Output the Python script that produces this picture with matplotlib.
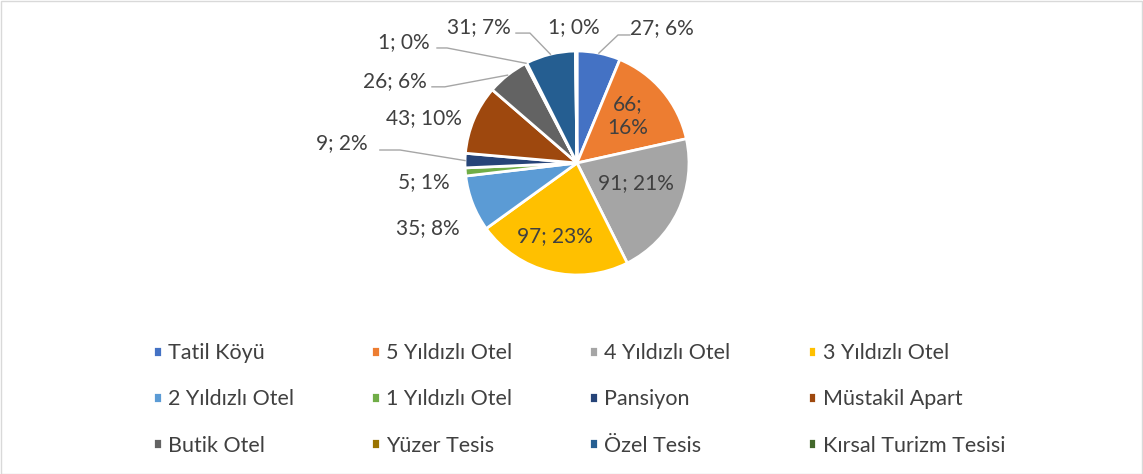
import numpy as np
import matplotlib
matplotlib.use("Agg")
import matplotlib.pyplot as plt
from matplotlib.patches import Rectangle

# ---------------- data ----------------
categories = ["Tatil Köyü", "5 Yıldızlı Otel", "4 Yıldızlı Otel", "3 Yıldızlı Otel",
              "2 Yıldızlı Otel", "1 Yıldızlı Otel", "Pansiyon", "Müstakil Apart",
              "Butik Otel", "Yüzer Tesis", "Özel Tesis", "Kırsal Turizm Tesisi"]
values = [27, 66, 91, 97, 35, 5, 9, 43, 26, 1, 31, 1]
percents = [6, 16, 21, 23, 8, 1, 2, 10, 6, 0, 7, 0]
colors = ["#4472C4", "#ED7D31", "#A5A5A5", "#FFC000", "#5B9BD5", "#70AD47",
          "#264478", "#9E480E", "#636363", "#997300", "#255E91", "#43682B"]

# ---------------- layout ----------------
W, H = 1143, 474
cx, cy, R = 577, H - 163, 112
# label centres in units of radius relative to pie centre
label_pos = [(0.76, 1.205), (0.455, 0.42), (0.527, -0.18), (-0.196, -0.652),
             (-1.33, -0.58), (-1.366, -0.17), (-2.10, 0.18), (-1.366, 0.40),
             (-1.625, 0.73), (-1.545, 1.08), (-0.875, 1.214), (-0.027, 1.214)]
two_line = {1}
# leader lines: index -> (elbow, end) in radius units
leaders = {0: ((0.366, 1.143), (0.473, 1.143)),
           10: ((-0.42, 1.16), (-0.545, 1.16)),
           9: ((-1.16, 1.027), (-1.25, 1.027)),
           8: ((-1.18, 0.68), (-1.295, 0.68)),
           6: ((-1.58, 0.116), (-1.76, 0.116))}

plt.rcParams['font.family'] = ['Lato', 'DejaVu Sans']
txt_color = "#404040"

fig = plt.figure(figsize=(W / 100, H / 100), dpi=100)
ax = fig.add_axes([0, 0, 1, 1])
wedges, _ = ax.pie(values, colors=colors, startangle=90, counterclock=False,
                   center=(cx, cy), radius=R,
                   wedgeprops=dict(edgecolor="white", linewidth=2.0))
ax.set_xlim(0, W)
ax.set_ylim(0, H)
ax.set_aspect('equal')
ax.axis('off')

total = sum(values)
cum = np.cumsum([0] + values)
for i, (v, p) in enumerate(zip(values, percents)):
    mid = (cum[i] + cum[i + 1]) / 2 / total
    ang = np.deg2rad(90 - 360 * mid)
    lx, ly = label_pos[i]
    sep = ";\n" if i in two_line else "; "
    ax.text(cx + lx * R, cy + ly * R, f"{v}{sep}{p}%", ha='center', va='center',
            fontsize=15, color=txt_color, linespacing=1.2)
    if i in leaders:
        (ex, ey), (fx, fy) = leaders[i]
        xs = [cx + np.cos(ang) * R, cx + ex * R, cx + fx * R]
        ys = [cy + np.sin(ang) * R, cy + ey * R, cy + fy * R]
        ax.plot(xs, ys, color="#A6A6A6", lw=1.0)

order = [0, 4, 8, 1, 5, 9, 2, 6, 10, 3, 7, 11]
handles = [wedges[k] for k in order]
labels = [categories[k] for k in order]
fig.legend(handles, labels, ncol=4, loc='upper left', bbox_to_anchor=(153 / W, 1 - 343 / H),
           frameon=False, fontsize=15.5, labelcolor=txt_color,
           handlelength=0.4, handleheight=0.4, handletextpad=0.3,
           columnspacing=3.58, labelspacing=1.22, borderpad=0, borderaxespad=0)

fig.patches.append(Rectangle((0.5 / W, 0.5 / H), 1 - 1.5 / W, 1 - 1.5 / H,
                             transform=fig.transFigure, fill=False,
                             edgecolor="#D9D9D9", lw=1.0))
fig.savefig("out.png", dpi=100, facecolor="white")
